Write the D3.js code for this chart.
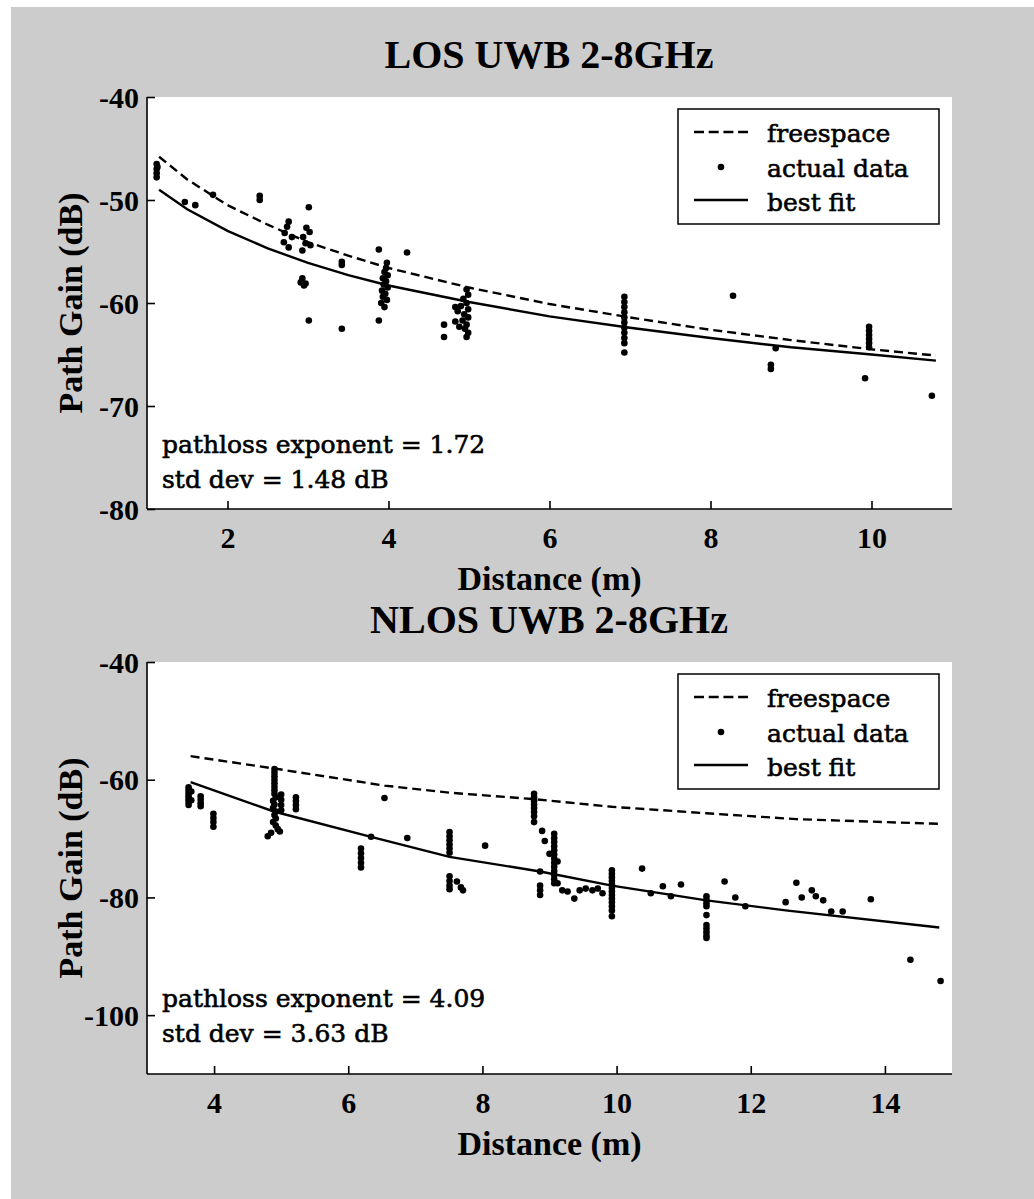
<!DOCTYPE html>
<html><head><meta charset="utf-8">
<script src="https://cdn.jsdelivr.net/npm/d3@7"></script>
<style>
html,body{margin:0;padding:0;background:#cccccc;}
svg{display:block;}
</style></head>
<body>
<script>
// ---------- DATA ----------
const losTitle = "LOS UWB 2-8GHz";
const nlosTitle = "NLOS UWB 2-8GHz";
const losXTicks = [2, 4, 6, 8, 10];
const losYTicks = [-40, -50, -60, -70, -80];
const nlosXTicks = [4, 6, 8, 10, 12, 14];
const nlosYTicks = [-40, -60, -80, -100];
const legendLabels = ["freespace", "actual data", "best fit"];
const losNotes = ["pathloss exponent = 1.72", "std dev = 1.48 dB"];
const nlosNotes = ["pathloss exponent = 4.09", "std dev = 3.63 dB"];

const losFreespace = [[1.15,-45.8],[1.5,-48.0],[2.0,-50.5],[2.5,-52.4],[3.0,-54.1],[3.5,-55.4],[4.0,-56.6],[5.0,-58.5],[6.0,-60.1],[7.0,-61.4],[8.0,-62.6],[9.0,-63.6],[10.0,-64.5],[10.8,-65.1]];
const losFit = [[1.15,-49.0],[1.5,-50.9],[2.0,-53.0],[2.5,-54.7],[3.0,-56.1],[3.5,-57.3],[4.0,-58.3],[5.0,-59.9],[6.0,-61.3],[7.0,-62.4],[8.0,-63.4],[9.0,-64.3],[10.0,-65.0],[10.8,-65.6]];
const losPoints = [
 [1.12,-46.5],[1.12,-47.0],[1.12,-47.4],[1.12,-47.8],[1.13,-46.8],
 [1.47,-50.2],[1.6,-50.5],[1.82,-49.5],[2.4,-49.6],[2.4,-50.0],
 [2.76,-52.1],[2.74,-52.6],[2.71,-53.2],[2.80,-53.6],[2.70,-54.1],[2.76,-54.6],
 [3.01,-50.7],[2.98,-52.7],[3.02,-53.1],[2.94,-53.6],[2.97,-54.2],[2.93,-54.9],[3.03,-54.4],
 [2.93,-57.6],[2.97,-58.1],[2.91,-58.0],[2.95,-58.3],[3.01,-61.7],
 [3.42,-56.0],[3.42,-56.3],[3.42,-62.5],[3.88,-54.8],[4.23,-55.1],
 [3.98,-56.1],[3.97,-56.6],[3.95,-57.0],[3.99,-57.3],[3.93,-57.6],[3.97,-57.9],[3.94,-58.2],[3.99,-58.5],
 [3.92,-58.8],[3.96,-59.1],[3.93,-59.4],[3.98,-59.7],[3.91,-60.0],[3.95,-60.4],[3.88,-61.7],
 [4.97,-58.7],[4.99,-59.2],[4.93,-59.6],[4.97,-60.0],[4.90,-60.3],[4.99,-60.6],[4.86,-60.8],[4.94,-61.1],
 [4.99,-61.4],[4.92,-61.7],[4.97,-62.1],[4.95,-62.5],[4.99,-62.9],[4.97,-63.3],[4.83,-61.8],[4.69,-62.1],
 [4.69,-63.3],[4.83,-60.4],[4.88,-62.3],
 [6.93,-59.4],[6.93,-59.9],[6.93,-60.4],[6.93,-60.9],[6.93,-61.4],[6.93,-61.9],[6.93,-62.4],[6.93,-62.9],
 [6.93,-63.4],[6.93,-63.9],[6.93,-64.8],
 [8.28,-59.3],[8.75,-66.0],[8.75,-66.4],[8.81,-64.4],[9.92,-67.3],
 [9.97,-62.3],[9.97,-62.7],[9.97,-63.1],[9.97,-63.5],[9.97,-63.9],[9.97,-64.3],
 [10.75,-69.0]
];

const nlosFreespace = [[3.65,-56.0],[4.9,-58.1],[6.54,-61.0],[7.51,-62.2],[8.77,-63.3],[9.93,-64.6],[11.34,-65.7],[12.68,-66.7],[14.81,-67.5]];
const nlosFit = [[3.65,-60.4],[4.89,-65.4],[6.34,-69.7],[7.51,-73.1],[8.86,-75.6],[9.93,-78.0],[11.34,-80.5],[12.52,-82.2],[14.81,-85.1]];
const nlosPoints = [
 [3.62,-61.3],[3.62,-61.8],[3.62,-62.3],[3.62,-62.8],[3.62,-63.3],[3.62,-63.8],[3.62,-64.3],[3.66,-62.0],[3.66,-63.5],
 [3.8,-62.8],[3.8,-63.4],[3.8,-64.0],[3.8,-64.5],
 [3.99,-65.8],[3.99,-66.5],[3.99,-67.2],[3.99,-68.0],
 [4.9,-58.2],[4.9,-58.8],[4.9,-59.4],[4.9,-60.0],[4.9,-60.6],[4.9,-61.2],[4.9,-61.8],[4.9,-62.4],[4.92,-63.0],
 [4.88,-63.6],[4.9,-64.2],[4.88,-64.8],[4.92,-65.4],[4.9,-66.0],[4.92,-66.6],[4.88,-67.2],[4.92,-67.8],[4.95,-68.4],
 [4.8,-69.6],[4.85,-69.0],[4.98,-68.8],
 [5.0,-62.5],[5.0,-63.4],[5.0,-64.3],[5.0,-65.2],
 [5.22,-63.0],[5.22,-63.6],[5.22,-64.3],[5.22,-65.0],
 [6.54,-63.1],
 [6.19,-71.7],[6.19,-72.5],[6.19,-73.3],[6.19,-74.1],[6.19,-74.9],
 [6.34,-69.7],[6.88,-69.9],
 [7.51,-68.9],[7.51,-69.6],[7.51,-70.3],[7.51,-71.0],[7.51,-71.7],[7.51,-72.4],
 [7.51,-76.4],[7.51,-77.2],[7.51,-78.0],[7.51,-78.6],[7.62,-77.3],[7.71,-78.8],[7.68,-78.3],
 [8.04,-71.2],
 [8.77,-62.4],[8.77,-63.0],[8.77,-63.6],[8.77,-64.2],[8.77,-64.8],[8.77,-65.5],[8.77,-66.2],[8.77,-67.2],
 [8.89,-68.7],[8.93,-70.4],[9.0,-72.6],[8.86,-75.6],[8.86,-78.0],[8.86,-78.8],[8.86,-79.6],
 [9.07,-69.2],[9.07,-69.9],[9.07,-70.6],[9.07,-71.3],[9.07,-72.0],[9.07,-72.7],[9.07,-73.4],[9.07,-74.1],
 [9.07,-74.8],[9.07,-75.5],[9.07,-76.2],[9.07,-76.9],[9.07,-77.6],
 [9.12,-73.9],[9.12,-77.6],[9.19,-78.8],[9.27,-79.0],[9.37,-80.2],[9.45,-78.8],[9.54,-78.5],[9.64,-78.8],[9.72,-78.5],[9.79,-79.3],
 [9.93,-75.4],[9.93,-76.0],[9.93,-76.6],[9.93,-77.2],[9.93,-77.8],[9.93,-78.4],[9.93,-79.0],[9.93,-79.6],
 [9.93,-80.2],[9.93,-80.8],[9.93,-81.5],[9.93,-82.2],[9.93,-83.2],
 [10.38,-75.1],[10.51,-79.3],[10.69,-78.1],[10.81,-79.8],[10.96,-77.8],
 [11.34,-79.8],[11.34,-80.4],[11.34,-81.0],[11.34,-81.5],[11.34,-83.0],[11.34,-84.7],[11.34,-85.3],[11.34,-85.9],[11.34,-86.5],[11.34,-86.9],
 [11.61,-77.3],[11.77,-80.0],[11.92,-81.5],[12.52,-80.8],[12.68,-77.5],[12.76,-80.0],[12.91,-78.8],[12.97,-79.8],
 [13.08,-80.5],[13.2,-82.4],[13.37,-82.4],[13.79,-80.3],[14.38,-90.6],[14.83,-94.2]
];

// ---------- DRAW ----------
const W = 1034, H = 1199;
const svg = d3.select("body").append("svg").attr("width", W).attr("height", H);
svg.append("rect").attr("x",0).attr("y",0).attr("width",W).attr("height",H).attr("fill","#cccccc");
svg.append("rect").attr("x",0).attr("y",0).attr("width",W).attr("height",7).attr("fill","#ffffff");
svg.append("rect").attr("x",0).attr("y",0).attr("width",11).attr("height",H).attr("fill","#ffffff");

const serifBold = "'Liberation Serif','Times New Roman',serif";
const legendFont = "'DejaVu Serif',serif";

function panel(cfg){
  const L = 147, R = 952, T = cfg.top, B = cfg.top + 412;
  const x = d3.scaleLinear().domain(cfg.xDomain).range([L, R]);
  const y = d3.scaleLinear().domain(cfg.yDomain).range([B, T]);
  const g = svg.append("g");
  g.append("rect").attr("x",L).attr("y",T).attr("width",R-L).attr("height",B-T).attr("fill","#ffffff");

  // title
  g.append("text").attr("x",549).attr("y",T-29).attr("text-anchor","middle")
    .attr("font-family",serifBold).attr("font-weight","bold").attr("font-size",40).attr("fill","#000")
    .text(cfg.title);

  // axes
  const fmt = d => String(d);
  const xAxis = d3.axisBottom(x).tickValues(cfg.xTicks).tickSize(-8).tickPadding(18).tickFormat(fmt);
  const ax = g.append("g").attr("transform",`translate(0,${B})`).call(xAxis);
  ax.select(".domain").attr("d",`M${L},0H${R}`).attr("stroke","#000").attr("stroke-width",1.6);
  ax.selectAll(".tick line").attr("stroke","#000").attr("stroke-width",1.6);
  ax.selectAll(".tick text").attr("font-family",serifBold).attr("font-weight","bold").attr("font-size",30)
    .attr("fill","#000").attr("dy","0.71em");

  const yAxis = d3.axisLeft(y).tickValues(cfg.yTicks).tickSize(-8).tickPadding(8).tickFormat(fmt);
  const ay = g.append("g").attr("transform",`translate(${L},0)`).call(yAxis);
  ay.select(".domain").attr("d",`M0,${T}V${B}`).attr("stroke","#000").attr("stroke-width",1.6);
  ay.selectAll(".tick line").attr("stroke","#000").attr("stroke-width",1.6);
  ay.selectAll(".tick text").attr("font-family",serifBold).attr("font-weight","bold").attr("font-size",30)
    .attr("fill","#000").attr("dy","0.34em");

  // axis labels
  g.append("text").attr("x",(L+R)/2).attr("y",B+81).attr("text-anchor","middle")
    .attr("font-family",serifBold).attr("font-weight","bold").attr("font-size",34).attr("fill","#000")
    .text("Distance (m)");
  g.append("text").attr("transform",`translate(82,${(T+B)/2}) rotate(-90)`).attr("text-anchor","middle")
    .attr("font-family",serifBold).attr("font-weight","bold").attr("font-size",34).attr("fill","#000")
    .text("Path Gain (dB)");

  // lines
  const line = d3.line().x(d=>x(d[0])).y(d=>y(d[1]));
  g.append("path").datum(cfg.free).attr("d",line).attr("fill","none").attr("stroke","#000")
    .attr("stroke-width",2.4).attr("stroke-dasharray","9,5");
  g.append("path").datum(cfg.fit).attr("d",line).attr("fill","none").attr("stroke","#000")
    .attr("stroke-width",2.4);

  // points
  g.append("g").selectAll("circle").data(cfg.points).join("circle")
    .attr("cx",d=>x(d[0])).attr("cy",d=>y(d[1])).attr("r",3.3).attr("fill","#000");

  // notes
  cfg.notes.forEach((t,i)=>{
    g.append("text").attr("x",162).attr("y",T+cfg.noteY+i*35)
      .attr("font-family",legendFont).attr("font-size",25).attr("fill","#000")
      .attr("stroke","#000").attr("stroke-width",0.6).text(t);
  });

  // legend
  const lg = g.append("g").attr("transform",`translate(678,${T+12})`);
  lg.append("rect").attr("x",0).attr("y",0).attr("width",261).attr("height",115)
    .attr("fill","#fff").attr("stroke","#000").attr("stroke-width",1.5);
  lg.append("line").attr("x1",16).attr("x2",70).attr("y1",23).attr("y2",23).attr("stroke","#000")
    .attr("stroke-width",2.4).attr("stroke-dasharray","10,4.7");
  lg.append("circle").attr("cx",43).attr("cy",58).attr("r",3.3).attr("fill","#000");
  lg.append("line").attr("x1",16).attr("x2",70).attr("y1",91).attr("y2",91).attr("stroke","#000")
    .attr("stroke-width",2.4);
  legendLabels.forEach((t,i)=>{
    lg.append("text").attr("x",89).attr("y",33+i*34.5)
      .attr("font-family",legendFont).attr("font-size",25).attr("fill","#000")
      .attr("stroke","#000").attr("stroke-width",0.6).text(t);
  });
}

panel({top:97, xDomain:[1,11], yDomain:[-80,-40], xTicks:losXTicks, yTicks:losYTicks,
  title:losTitle, free:losFreespace, fit:losFit, points:losPoints, notes:losNotes, noteY:356});
panel({top:662, xDomain:[3,15], yDomain:[-110,-40], xTicks:nlosXTicks, yTicks:nlosYTicks,
  title:nlosTitle, free:nlosFreespace, fit:nlosFit, points:nlosPoints, notes:nlosNotes, noteY:345});
</script>
</body></html>
